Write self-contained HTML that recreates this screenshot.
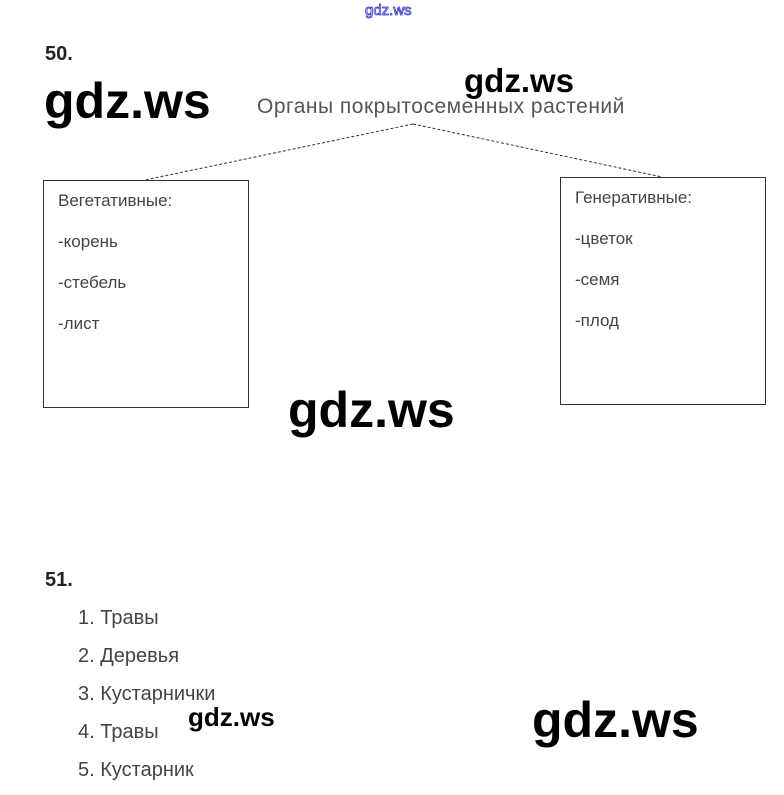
<!DOCTYPE html>
<html><head><meta charset="utf-8"><style>
body{margin:0;width:784px;height:795px;background:#fff;position:relative;overflow:hidden;font-family:"Liberation Sans",sans-serif;}
.a{position:absolute;white-space:nowrap;line-height:1;}
.w{font-family:"Liberation Sans",sans-serif;color:#000;font-weight:bold;}
.box{position:absolute;border:1px solid #333;}
.t{position:absolute;color:#444;font-size:17px;line-height:1;white-space:nowrap;}
.li{position:absolute;left:78px;color:#444;font-size:20px;line-height:1;white-space:nowrap;}
</style></head><body>
<div class="a" style="left:365px;top:3px;font-size:15px;color:#fff;-webkit-text-stroke:0.8px #33c;">gdz.ws</div>
<div class="a" style="left:45px;top:44px;font-size:20px;color:#222;font-weight:bold;">50.</div>
<div class="a w" style="left:44px;top:76px;font-size:50px;">gdz.ws</div>
<div class="a w" style="left:464px;top:64px;font-size:33px;">gdz.ws</div>
<div class="a" style="left:257px;top:96px;font-size:21px;color:#555;letter-spacing:0.5px;">Органы покрытосеменных растений</div>
<svg class="a" style="left:0;top:0" width="784" height="795">
<line x1="413" y1="124" x2="145" y2="180" stroke="#333" stroke-dasharray="3,2" stroke-width="1"/>
<line x1="413" y1="124" x2="662" y2="177" stroke="#333" stroke-dasharray="3,2" stroke-width="1"/>
</svg>
<div class="box" style="left:43px;top:180px;width:204px;height:226px;"></div>
<div class="box" style="left:560px;top:177px;width:204px;height:226px;"></div>
<div class="t" style="left:58px;top:192px;">Вегетативные:</div>
<div class="t" style="left:58px;top:233px;">-корень</div>
<div class="t" style="left:58px;top:274px;">-стебель</div>
<div class="t" style="left:58px;top:315px;">-лист</div>
<div class="t" style="left:575px;top:189px;">Генеративные:</div>
<div class="t" style="left:575px;top:230px;">-цветок</div>
<div class="t" style="left:575px;top:271px;">-семя</div>
<div class="t" style="left:575px;top:312px;">-плод</div>
<div class="a w" style="left:288px;top:385px;font-size:50px;">gdz.ws</div>
<div class="a" style="left:45px;top:570px;font-size:20px;color:#222;font-weight:bold;">51.</div>
<div class="li" style="top:608px;">1. Травы</div>
<div class="li" style="top:646px;">2. Деревья</div>
<div class="li" style="top:684px;">3. Кустарнички</div>
<div class="li" style="top:722px;">4. Травы</div>
<div class="li" style="top:760px;">5. Кустарник</div>
<div class="a w" style="left:188px;top:704px;font-size:26px;">gdz.ws</div>
<div class="a w" style="left:532px;top:695px;font-size:50px;">gdz.ws</div>
</body></html>
